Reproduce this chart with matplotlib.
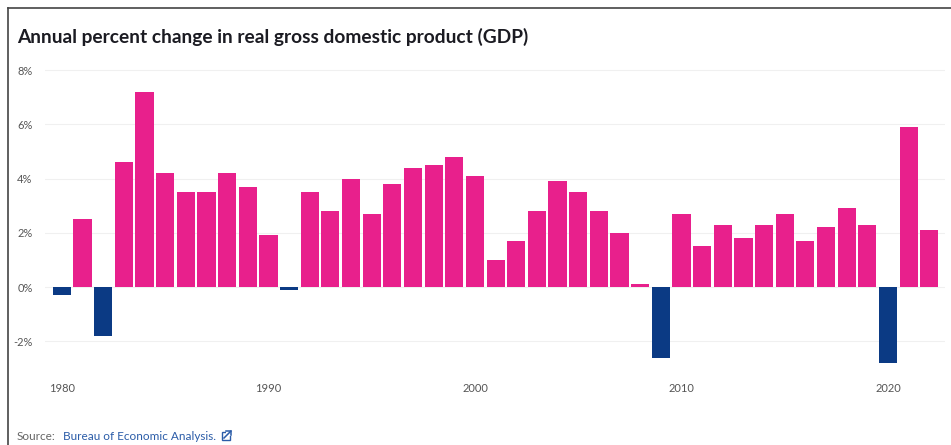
import matplotlib
matplotlib.use("Agg")
import matplotlib.pyplot as plt
from matplotlib.lines import Line2D
from matplotlib.patches import Rectangle

years = list(range(1980, 2023))
gdp_change = [-0.3, 2.5, -1.8, 4.6, 7.2, 4.2, 3.5, 3.5, 4.2, 3.7,
              1.9, -0.1, 3.5, 2.8, 4.0, 2.7, 3.8, 4.4, 4.5, 4.8,
              4.1, 1.0, 1.7, 2.8, 3.9, 3.5, 2.8, 2.0, 0.1, -2.6,
              2.7, 1.5, 2.3, 1.8, 2.3, 2.7, 1.7, 2.2, 2.9, 2.3,
              -2.8, 5.9, 2.1]
y_ticks = [-2, 0, 2, 4, 6, 8]
y_tick_labels = ["-2%", "0%", "2%", "4%", "6%", "8%"]
x_ticks = [1980, 1990, 2000, 2010, 2020]

POS = "#E8208C"
NEG = "#0B3A84"
FONT = ["Lato", "DejaVu Sans"]

W, H = 951, 445
fig = plt.figure(figsize=(W / 100, H / 100), dpi=100)
fig.patch.set_facecolor("white")

ax_l, ax_r, ax_t, ax_b = 45, 945, 60, 370
ax = fig.add_axes([ax_l / W, 1 - ax_b / H, (ax_r - ax_l) / W, (ax_b - ax_t) / H])

colors = [POS if v >= 0 else NEG for v in gdp_change]
ax.bar(years, gdp_change, width=0.88, color=colors, zorder=3)

ax.set_xlim(1979.18, 2022.76)
ax.set_ylim(-3.06, 8.37)
ax.set_yticks(y_ticks)
ax.set_yticklabels(y_tick_labels)
ax.set_xticks(x_ticks)
ax.set_xticklabels([str(x) for x in x_ticks])
ax.tick_params(length=0, labelsize=8, labelcolor="#555555", pad=9)
for lbl in ax.get_xticklabels() + ax.get_yticklabels():
    lbl.set_fontfamily(FONT)
ax.grid(axis="y", color="#f0f0f0", linewidth=0.8, zorder=0)
ax.grid(axis="x", visible=False)
for s in ax.spines.values():
    s.set_visible(False)
ax.set_facecolor("white")

# frame edges
fig.add_artist(Line2D([8 / W, 8 / W], [0, 1 - 8 / H], color="#444444", lw=1.2))
fig.add_artist(Line2D([8 / W, 1], [1 - 8 / H, 1 - 8 / H], color="#444444", lw=1.2))

fig.text(17 / W, 1 - 37 / H, "Annual percent change in real gross domestic product (GDP)",
         fontsize=13.8, fontweight="bold", color="#1b1b22", family=FONT,
         ha="left", va="center")

fig.text(17 / W, 1 - 436 / H, "Source:", fontsize=8.5, color="#666666",
         family=FONT, ha="left", va="center")
fig.text(63 / W, 1 - 436 / H, "Bureau of Economic Analysis.", fontsize=8.5,
         color="#2B5CA8", family=FONT, ha="left", va="center")

# external link icon
ix, iy, s = 222, 436, 8
fig.add_artist(Rectangle(((ix) / W, 1 - (iy + s / 2) / H), s / W, s / H,
                         fill=False, edgecolor="#2B5CA8", lw=1.0))
fig.add_artist(Rectangle(((ix + 4) / W, 1 - (iy - s / 2 + 4) / H), 6 / W, 5 / H,
                         facecolor="white", edgecolor="none"))
fig.add_artist(Line2D([(ix + 4) / W, (ix + s + 1) / W, (ix + s + 1) / W],
                      [1 - (iy - s / 2 - 1) / H, 1 - (iy - s / 2 - 1) / H, 1 - (iy - 1) / H],
                      color="#2B5CA8", lw=1.1))
fig.add_artist(Line2D([(ix + 2) / W, (ix + s + 1) / W],
                      [1 - (iy + 2) / H, 1 - (iy - s / 2 - 1) / H],
                      color="#2B5CA8", lw=1.1))

fig.savefig("out.png", dpi=100)
